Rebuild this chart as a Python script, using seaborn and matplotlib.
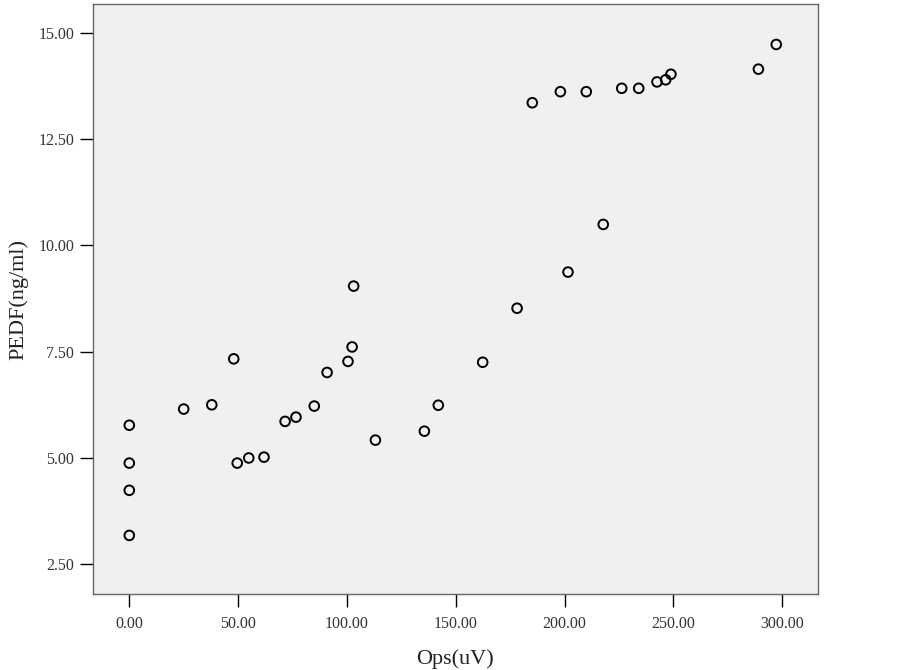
import matplotlib
matplotlib.use("Agg")
import matplotlib.pyplot as plt
import seaborn as sns
import pandas as pd

ops_uv = [0.0, 0.0, 0.0, 0.0, 25.0, 37.9, 48.0, 49.6, 54.9, 61.9, 71.6, 76.6,
          85.0, 90.9, 100.5, 102.4, 103.1, 113.1, 135.6, 142.0, 162.4, 178.2,
          185.2, 198.1, 201.6, 210.0, 217.8, 226.3, 234.1, 242.5, 246.5, 248.9,
          289.1, 297.3]
pedf = [5.77, 4.88, 4.24, 3.18, 6.15, 6.25, 7.33, 4.88, 5.00, 5.02, 5.86, 5.96,
        6.22, 7.01, 7.27, 7.61, 9.04, 5.42, 5.63, 6.24, 7.25, 8.52,
        13.35, 13.61, 9.37, 13.61, 10.49, 13.69, 13.69, 13.84, 13.89, 14.02,
        14.14, 14.72]
x_ticks = [0, 50, 100, 150, 200, 250, 300]
y_ticks = [2.5, 5.0, 7.5, 10.0, 12.5, 15.0]
x_label = "Ops(uV)"
y_label = "PEDF(ng/ml)"

df = pd.DataFrame({"ops": ops_uv, "pedf": pedf})

sns.set_theme(style="ticks")
plt.rcParams["font.family"] = ["Liberation Serif", "DejaVu Serif"]

fig = plt.figure(figsize=(9.03, 6.70), dpi=100)
ax = fig.add_axes([0.1027, 0.1139, 0.9059 - 0.1027, 0.9933 - 0.1139])
ax.set_facecolor("#F0F0F0")

sns.scatterplot(data=df, x="ops", y="pedf", ax=ax, s=48, marker="o",
                facecolor="none", edgecolor="black", linewidth=1.4, legend=False)

ax.set_xlim(-16.8, 316.5)
ax.set_ylim(1.81, 15.66)
ax.set_xticks(x_ticks)
ax.set_yticks(y_ticks)
ax.set_xticklabels([f"{v:.2f}" for v in x_ticks])
ax.set_yticklabels([f"{v:.2f}" for v in y_ticks])
ax.tick_params(axis="both", direction="out", length=9.4, width=1.0,
               color="black", labelsize=11.5, pad=4, labelcolor="#333333")
ax.tick_params(axis="x", pad=7)
for sp in ax.spines.values():
    sp.set_visible(True)
    sp.set_color("#666666")
    sp.set_linewidth(1.0)

ax.set_xlabel(x_label, fontsize=16, labelpad=12, color="#222222")
ax.set_ylabel(y_label, fontsize=16, labelpad=7, color="#222222")

fig.savefig("out.png", dpi=100)
